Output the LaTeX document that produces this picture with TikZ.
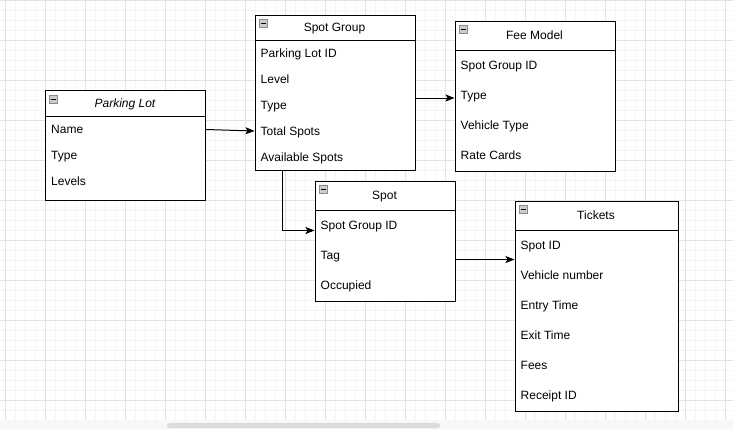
\documentclass[tikz,border=0pt]{standalone}
\usepackage{fontspec}
\setmainfont{Liberation Sans}
\usetikzlibrary{arrows.meta}
\definecolor{minorg}{HTML}{F4F4F4}
\definecolor{majorg}{HTML}{E2E2E2}
\definecolor{scrollbg}{HTML}{F7F7F7}
\definecolor{scrollth}{HTML}{DCDCDC}
\definecolor{minusfill}{HTML}{CDCDCD}
\definecolor{minusdraw}{HTML}{8A8A8A}
\tikzset{
  minorgrid/.style={draw=minorg, line width=1pt},
  majorgrid/.style={draw=majorg, line width=1pt},
  ebox/.style={draw=black, line width=1pt, fill=white, anchor=north west, inner sep=0pt},
  etitle/.style={inner sep=0pt, font=\fontsize{12pt}{14pt}\selectfont, text height=8.6pt, text depth=0pt},
  erow/.style={inner sep=0pt, anchor=west, font=\fontsize{12pt}{14pt}\selectfont, text height=8.6pt, text depth=0pt},
  sepline/.style={draw=black, line width=1pt},
  minusicon/.style={draw=minusdraw, fill=minusfill, line width=0.7pt, minimum size=8pt, inner sep=0pt,
    path picture={\draw[black, line width=1pt] ([xshift=1.8pt]path picture bounding box.west) -- ([xshift=-1.8pt]path picture bounding box.east);}},
  conn/.style={draw=black, line width=1pt, -{Stealth[length=9pt,width=7pt,inset=2pt]}}
}
\begin{document}
\begin{tikzpicture}[x=1pt,y=-1pt]
\useasboundingbox (0,0) rectangle (733,429);
\fill[white] (0,0) rectangle (733,429);
% grid
\foreach \x in {5,15,...,735} \draw[minorgrid] (\x,0) -- (\x,420);
\foreach \y in {0,10,...,420} \draw[minorgrid] (0,\y) -- (733,\y);
\foreach \x in {5,45,...,735} \draw[majorgrid] (\x,0) -- (\x,420);
\foreach \y in {0,40,...,400} \draw[majorgrid] (0,\y) -- (733,\y);
% scroll strip
\fill[scrollbg] (0,420) rectangle (733,429);
\fill[scrollth, rounded corners=2.5pt] (167,423) rectangle (440,428);

% Parking Lot
\node[ebox, minimum width=160pt, minimum height=110pt] (pl) at (45,90) {};
\draw[sepline] (pl.west |- 0,116) -- (pl.east |- 0,116);
\node[minusicon] (plm) at (53.5,99.5) {};
\node[etitle, font=\fontsize{12pt}{14pt}\selectfont\itshape] (plt) at (125,103.5) {Parking Lot};
\node[erow] (plname) at (51,129.5) {Name};
\node[erow] (pltype) at (51,155.5) {Type};
\node[erow] (pllev) at (51,181.5) {Levels};

% Spot Group
\node[ebox, minimum width=160pt, minimum height=155pt] (sg) at (254.5,15) {};
\draw[sepline] (sg.west |- 0,40.5) -- (sg.east |- 0,40.5);
\node[minusicon] (sgm) at (263.5,23.5) {};
\node[etitle] (sgt) at (334.5,27.5) {Spot Group};
\node[erow] (sgid) at (260.5,53.5) {Parking Lot ID};
\node[erow] (sglev) at (260.5,79.5) {Level};
\node[erow] (sgtype) at (260.5,105.5) {Type};
\node[erow] (sgtot) at (260.5,131.5) {Total Spots};
\node[erow] (sgav) at (260.5,157.5) {Available Spots};

% Fee Model
\node[ebox, minimum width=160pt, minimum height=150pt] (fm) at (454.5,20.5) {};
\draw[sepline] (fm.west |- 0,50.5) -- (fm.east |- 0,50.5);
\node[minusicon] (fmm) at (463.5,29.5) {};
\node[etitle] (fmt) at (534.5,35) {Fee Model};
\node[erow] (fmid) at (460.5,65) {Spot Group ID};
\node[erow] (fmtype) at (460.5,95) {Type};
\node[erow] (fmveh) at (460.5,125) {Vehicle Type};
\node[erow] (fmrate) at (460.5,155) {Rate Cards};

% Spot
\node[ebox, minimum width=140pt, minimum height=120pt] (sp) at (314.5,180.5) {};
\draw[sepline] (sp.west |- 0,210.5) -- (sp.east |- 0,210.5);
\node[minusicon] (spm) at (323.5,189.5) {};
\node[etitle] (spt) at (384.5,195) {Spot};
\node[erow] (spid) at (320.5,225) {Spot Group ID};
\node[erow] (sptag) at (320.5,255) {Tag};
\node[erow] (spocc) at (320.5,285) {Occupied};

% Tickets
\node[ebox, minimum width=163pt, minimum height=210pt] (tk) at (514.5,200.5) {};
\draw[sepline] (tk.west |- 0,230.5) -- (tk.east |- 0,230.5);
\node[minusicon] (tkm) at (523.5,209.5) {};
\node[etitle] (tkt) at (596,215) {Tickets};
\node[erow] (tkid) at (520.5,245) {Spot ID};
\node[erow] (tkveh) at (520.5,275) {Vehicle number};
\node[erow] (tkent) at (520.5,305) {Entry Time};
\node[erow] (tkexit) at (520.5,335) {Exit Time};
\node[erow] (tkfee) at (520.5,365) {Fees};
\node[erow] (tkrec) at (520.5,395) {Receipt ID};

% connectors
\coordinate (c1s) at (pl.east |- 0,129.5);
\coordinate (c1e) at (sg.west |- 0,131);
\draw[conn] (c1s) -- (c1e);
\coordinate (c2s) at (sg.east |- 0,98);
\draw[conn] (c2s) -- (c2s -| fm.west);
\coordinate (c3s) at (282,170);
\coordinate (c3e) at (sp.west |- 0,230.5);
\draw[conn] (c3s) |- (c3e);
\coordinate (c4s) at (sp.east |- 0,259.5);
\draw[conn] (c4s) -- (c4s -| tk.west);
\end{tikzpicture}
\end{document}
